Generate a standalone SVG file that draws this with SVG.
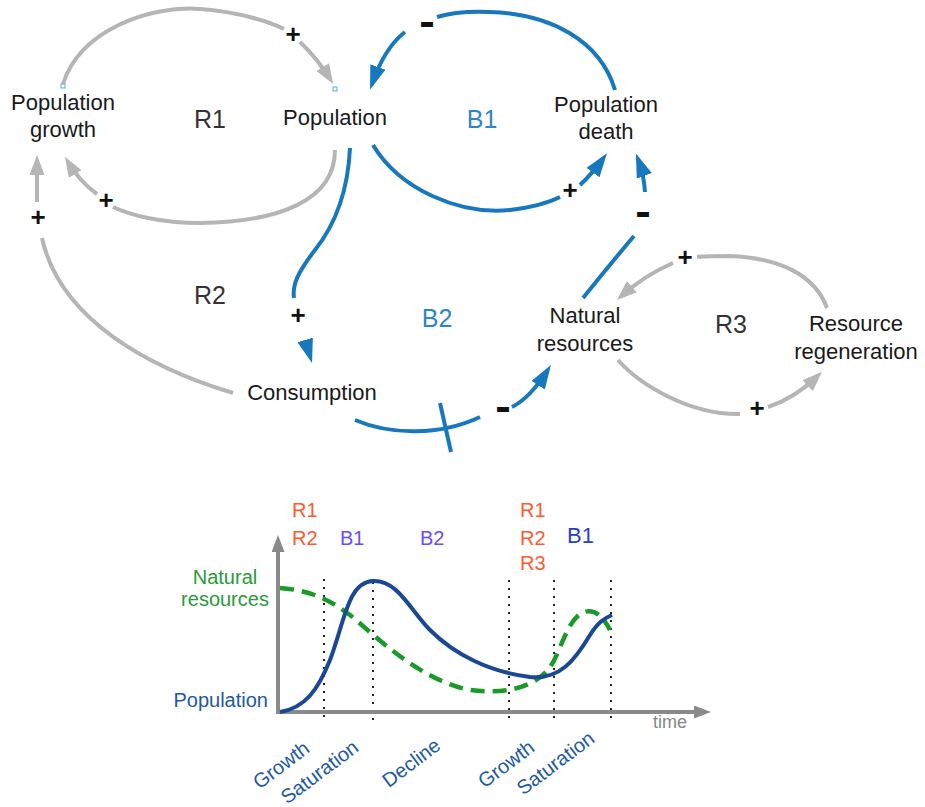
<svg xmlns="http://www.w3.org/2000/svg" width="925" height="807" viewBox="0 0 925 807">
<style>
text{font-family:"Liberation Sans",Arial,sans-serif}
.node{font-size:22px;fill:#1a1a1a}
.loopR{font-size:25px;fill:#333}
.loopB{font-size:25px;fill:#2e86c8}
.sign{font-size:26px;font-weight:bold;fill:#111;text-anchor:middle}
.g{fill:none;stroke:#b5b5b5;stroke-width:4}
.b{fill:none;stroke:#1878be;stroke-width:4}
.ph{font-size:20px;fill:#2159a5}
.dot{stroke:#222;stroke-width:2;stroke-dasharray:2 6}
</style>
<defs>
<marker id="ag" markerUnits="userSpaceOnUse" markerWidth="20" markerHeight="15" refX="14" refY="7.5" orient="auto"><path d="M0,0 L20,7.5 L0,15 z" fill="#b5b5b5"/></marker>
<marker id="ab" markerUnits="userSpaceOnUse" markerWidth="24" markerHeight="16" refX="18" refY="8" orient="auto"><path d="M0,0 L24,8 L0,16 z" fill="#1878be"/></marker>
<marker id="ax" markerUnits="userSpaceOnUse" markerWidth="17" markerHeight="13" refX="11" refY="6.5" orient="auto"><path d="M0,0 L17,6.5 L0,13 z" fill="#8a8a8a"/></marker>
</defs>

<g id="connectors">
<path class="g" d="M63,84 C80,30 150,5 200,9 C240,12 270,22 284,29 M300,42 Q317,58 330,79" marker-end="url(#ag)"/>
<path class="g" d="M335,150 C335,200 280,222 200,223 C160,223 130,215 113,207 M97,194 Q80,182 68,162" marker-end="url(#ag)"/>
<path class="g" d="M233,393 C150,368 60,320 42,238 M37,202 L37,161" marker-end="url(#ag)"/>
<path class="b" d="M615,90 C600,40 550,14 490,12 C465,11 450,13 437,17 M405,32 C392,42 381,58 372,84" marker-end="url(#ab)"/>
<path class="b" d="M373,145 C400,190 460,215 510,210 C535,207 550,202 560,197 M580,185 Q592,174 603.5,158" marker-end="url(#ab)"/>
<path class="b" d="M583,298 Q612,262 634,236 M645,192 Q644,175 638,159" marker-end="url(#ab)"/>
<path class="b" d="M350,148 C348,190 335,225 315,250 C298,272 292,285 294,298 M305.5,341 L310.3,357.2" marker-end="url(#ab)"/>
<path class="b" d="M355,420 C390,435 440,436 480,417 M512,407 Q530,398 547.7,370" marker-end="url(#ab)"/>
<path class="b" d="M440,403 L451,452"/>
<path class="g" d="M827,308 C815,275 780,258 730,256 C715,256 703,256 697,257 M673,263 Q645,275 621.5,296" marker-end="url(#ag)"/>
<path class="g" d="M618,360 C640,385 690,415 740,414 M768,407 Q795,398 817.7,376" marker-end="url(#ag)"/>
<rect x="61" y="84" width="4" height="4" fill="#fff" stroke="#5aaee0" stroke-width="1"/>
<rect x="333" y="87" width="4" height="4" fill="#fff" stroke="#5aaee0" stroke-width="1"/>
</g>

<g id="signs">
<text class="sign" x="293" y="43">+</text>
<text class="sign" x="106" y="209">+</text>
<text class="sign" x="38" y="226">+</text>
<text class="sign" x="298" y="324">+</text>
<text class="sign" x="570" y="199">+</text>
<text class="sign" x="685" y="266">+</text>
<text class="sign" x="757" y="417">+</text>
<text class="sign" transform="translate(427,25) scale(1.8,1.6)" y="6.9">-</text>
<text class="sign" transform="translate(643,215) scale(1.8,1.6)" y="6.9">-</text>
<text class="sign" transform="translate(503,410) scale(1.8,1.6)" y="6.9">-</text>
</g>

<g id="node-population-growth"><text class="node" text-anchor="middle"><tspan x="63" y="110">Population</tspan><tspan x="63" y="137">growth</tspan></text></g>
<g id="node-population"><text class="node" text-anchor="middle" x="335" y="125">Population</text></g>
<g id="node-population-death"><text class="node" text-anchor="middle"><tspan x="606" y="112">Population</tspan><tspan x="606" y="139">death</tspan></text></g>
<g id="node-consumption"><text class="node" text-anchor="middle" x="312" y="400">Consumption</text></g>
<g id="node-natural-resources"><text class="node" text-anchor="middle"><tspan x="585" y="323">Natural</tspan><tspan x="585" y="351">resources</tspan></text></g>
<g id="node-resource-regeneration"><text class="node" text-anchor="middle"><tspan x="856" y="331">Resource</tspan><tspan x="856" y="359">regeneration</tspan></text></g>

<g id="loops">
<text class="loopR" text-anchor="middle" x="210" y="128">R1</text>
<text class="loopB" text-anchor="middle" x="482" y="128">B1</text>
<text class="loopR" text-anchor="middle" x="210" y="304">R2</text>
<text class="loopB" text-anchor="middle" x="437" y="327">B2</text>
<text class="loopR" text-anchor="middle" x="731" y="333">R3</text>
</g>

<g id="chart">
<line class="dot" x1="324" y1="579" x2="324" y2="722"/>
<line class="dot" x1="373" y1="582" x2="373" y2="722"/>
<line class="dot" x1="509" y1="580" x2="509" y2="722"/>
<line class="dot" x1="554" y1="580" x2="554" y2="722"/>
<line class="dot" x1="611" y1="580" x2="611" y2="722"/>
<path d="M278,714 L278,541" stroke="#8a8a8a" stroke-width="4" fill="none" marker-end="url(#ax)"/>
<path d="M276,712 L705,712" stroke="#8a8a8a" stroke-width="4" fill="none" marker-end="url(#ax)"/>
<path d="M280,588 C310,590 330,600 350,615 C380,640 420,680 470,690 C500,694 530,690 548,670 C560,655 565,625 580,614 C595,605 605,620 610,630" fill="none" stroke="#1a9a28" stroke-width="4.5" stroke-dasharray="14 8"/>
<path d="M280,712 C305,708 318,690 330,660 C345,620 348,582 373,581 C398,580 410,610 430,630 C455,655 490,672 530,677 C560,680 575,660 590,635 C598,622 605,618 612,615" fill="none" stroke="#1b4894" stroke-width="4"/>
<text x="225" y="584" font-size="20" fill="#2a9a3a" text-anchor="middle">Natural</text>
<text x="225" y="606" font-size="20" fill="#2a9a3a" text-anchor="middle">resources</text>
<text class="ph" x="268" y="707" text-anchor="end">Population</text>
<text x="653" y="728" font-size="18" fill="#888">time</text>
<g font-size="20">
<text x="292" y="517" fill="#ff5a2d">R1</text>
<text x="292" y="545" fill="#ff5a2d">R2</text>
<text x="340" y="545" fill="#6a4cff">B1</text>
<text x="420" y="545" fill="#6a4cff">B2</text>
<text x="520" y="517" fill="#ff5a2d">R1</text>
<text x="520" y="545" fill="#ff5a2d">R2</text>
<text x="520" y="570" fill="#ff5a2d">R3</text>
<text x="567" y="543" fill="#2b3fc4" font-size="22">B1</text>
</g>
<g class="ph" text-anchor="end">
<text transform="translate(311,751) rotate(-37)">Growth</text>
<text transform="translate(360,750) rotate(-37)">Saturation</text>
<text transform="translate(442,748) rotate(-37)">Decline</text>
<text transform="translate(536,750) rotate(-37)">Growth</text>
<text transform="translate(596,741) rotate(-37)">Saturation</text>
</g>
</g>
</svg>
